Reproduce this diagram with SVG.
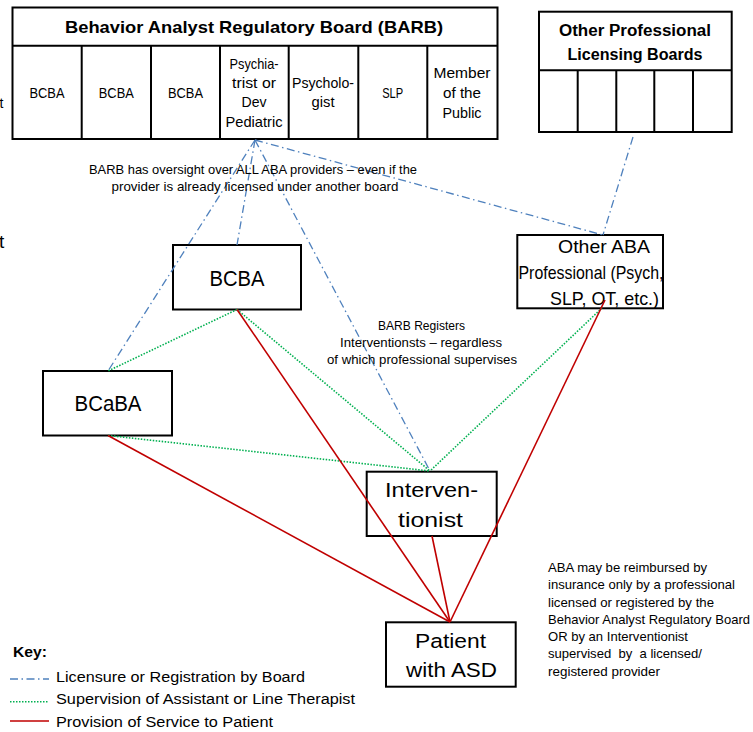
<svg xmlns="http://www.w3.org/2000/svg" width="753" height="732" viewBox="0 0 753 732">
<style>
.t{font-family:"Liberation Sans",Arial,sans-serif;fill:#000}
.b{font-weight:bold}
.box{fill:#fff;stroke:#000;stroke-width:2}
.grid{fill:none;stroke:#000;stroke-width:2}
.lic{fill:none;stroke:#4F81BD;stroke-width:1.3;stroke-dasharray:8 3.5 1.5 3.5}
.sup{fill:none;stroke:#00B050;stroke-width:1.6;stroke-dasharray:1.5 1.5}
.svc{fill:none;stroke:#C00000;stroke-width:1.6}
</style>
<rect width="753" height="732" fill="#fff"/>

<text class="t" x="-0.5" y="108" font-size="14">t</text>
<text class="t" x="-1" y="248" font-size="19">t</text>

<g id="barb">
  <rect class="grid" x="12.5" y="7.5" width="485" height="131.5"/>
  <line class="grid" x1="12.5" y1="45.7" x2="497.5" y2="45.7"/>
  <path class="grid" d="M81.7 45.7V139M151 45.7V139M220 45.7V139M288.7 45.7V139M358.3 45.7V139M427.3 45.7V139"/>
  <text class="t b" x="254" y="33" font-size="17" text-anchor="middle" textLength="378" lengthAdjust="spacingAndGlyphs">Behavior Analyst Regulatory Board (BARB)</text>
  <g font-size="14.5" text-anchor="middle">
    <text class="t" x="47" y="98" textLength="35" lengthAdjust="spacingAndGlyphs">BCBA</text>
    <text class="t" x="116.3" y="98" textLength="35" lengthAdjust="spacingAndGlyphs">BCBA</text>
    <text class="t" x="185.5" y="98" textLength="35" lengthAdjust="spacingAndGlyphs">BCBA</text>
    <text class="t" x="254" y="69" textLength="49" lengthAdjust="spacingAndGlyphs">Psychia-</text>
    <text class="t" x="254" y="88" textLength="44" lengthAdjust="spacingAndGlyphs">trist or</text>
    <text class="t" x="254" y="107" textLength="25" lengthAdjust="spacingAndGlyphs">Dev</text>
    <text class="t" x="254" y="127" textLength="57" lengthAdjust="spacingAndGlyphs">Pediatric</text>
    <text class="t" x="323" y="88" textLength="62" lengthAdjust="spacingAndGlyphs">Psycholo-</text>
    <text class="t" x="323" y="107" textLength="23" lengthAdjust="spacingAndGlyphs">gist</text>
    <text class="t" x="392.7" y="98" textLength="21" lengthAdjust="spacingAndGlyphs">SLP</text>
    <text class="t" x="462" y="78" textLength="57" lengthAdjust="spacingAndGlyphs">Member</text>
    <text class="t" x="462" y="98" textLength="38" lengthAdjust="spacingAndGlyphs">of the</text>
    <text class="t" x="462" y="118" textLength="39" lengthAdjust="spacingAndGlyphs">Public</text>
  </g>
</g>

<g id="other-boards">
  <rect class="grid" x="539" y="11.7" width="192.7" height="120.3"/>
  <line class="grid" x1="539" y1="70.3" x2="731.7" y2="70.3"/>
  <path class="grid" d="M577.7 70.3V132M616.3 70.3V132M654.3 70.3V132M693 70.3V132"/>
  <text class="t b" x="635" y="36" font-size="16" text-anchor="middle" textLength="152" lengthAdjust="spacingAndGlyphs">Other Professional</text>
  <text class="t b" x="635" y="60" font-size="16" text-anchor="middle" textLength="135" lengthAdjust="spacingAndGlyphs">Licensing Boards</text>
</g>

<g id="bcba">
  <rect class="box" x="173" y="245" width="128" height="64.5"/>
  <text class="t" x="237" y="286" font-size="22" text-anchor="middle" textLength="55" lengthAdjust="spacingAndGlyphs">BCBA</text>
</g>

<g id="other-aba">
  <rect class="box" x="517.3" y="235" width="145.7" height="73.3"/>
  <text class="t" x="604" y="253" font-size="19" text-anchor="middle" textLength="92" lengthAdjust="spacingAndGlyphs">Other ABA</text>
  <text class="t" x="591" y="279" font-size="19" text-anchor="middle" textLength="145" lengthAdjust="spacingAndGlyphs">Professional (Psych,</text>
  <text class="t" x="604.5" y="305" font-size="19" text-anchor="middle" textLength="109" lengthAdjust="spacingAndGlyphs">SLP, OT, etc.)</text>
</g>

<g id="bcaba">
  <rect class="box" x="43" y="371" width="129" height="64.5"/>
  <text class="t" x="108" y="411" font-size="22" text-anchor="middle" textLength="67" lengthAdjust="spacingAndGlyphs">BCaBA</text>
</g>

<g id="interventionist">
  <rect class="box" x="366.7" y="471.7" width="130" height="64.3"/>
  <text class="t" x="431.5" y="497" font-size="20.5" text-anchor="middle" textLength="93" lengthAdjust="spacingAndGlyphs">Interven-</text>
  <text class="t" x="430.5" y="527" font-size="20.5" text-anchor="middle" textLength="65" lengthAdjust="spacingAndGlyphs">tionist</text>
</g>

<g id="patient">
  <rect class="box" x="386" y="622.3" width="129.7" height="64.4"/>
  <text class="t" x="450.5" y="648" font-size="20.5" text-anchor="middle" textLength="71" lengthAdjust="spacingAndGlyphs">Patient</text>
  <text class="t" x="451.5" y="677" font-size="20.5" text-anchor="middle" textLength="91" lengthAdjust="spacingAndGlyphs">with ASD</text>
</g>

<g id="connectors">
  <line class="lic" x1="255" y1="140" x2="237" y2="245"/>
  <line class="lic" x1="255" y1="140" x2="108" y2="371"/>
  <line class="lic" x1="255" y1="140" x2="430" y2="471"/>
  <line class="lic" x1="255" y1="140" x2="603" y2="235"/>
  <line class="lic" x1="633" y1="137" x2="603" y2="235"/>
  <line class="sup" x1="237" y1="309.5" x2="108" y2="371"/>
  <line class="sup" x1="237" y1="309.5" x2="430" y2="471"/>
  <line class="sup" x1="108" y1="435.5" x2="430" y2="471"/>
  <line class="sup" x1="602" y1="308" x2="430" y2="471"/>
  <line class="svc" x1="237" y1="309.5" x2="450" y2="622"/>
  <line class="svc" x1="108" y1="435.5" x2="450" y2="622"/>
  <line class="svc" x1="432" y1="536" x2="450" y2="622"/>
  <line class="svc" x1="605" y1="300" x2="450" y2="622"/>
</g>

<g id="notes" font-size="12.8">
  <text class="t" x="253" y="174" text-anchor="middle" textLength="328" lengthAdjust="spacingAndGlyphs">BARB has oversight over ALL ABA providers – even if the</text>
  <text class="t" x="255" y="191" text-anchor="middle" textLength="287" lengthAdjust="spacingAndGlyphs">provider is already licensed under another board</text>
  <text class="t" x="421.5" y="330" text-anchor="middle" textLength="87" lengthAdjust="spacingAndGlyphs">BARB Registers</text>
  <text class="t" x="421" y="347" text-anchor="middle" textLength="162" lengthAdjust="spacingAndGlyphs">Interventionsts – regardless</text>
  <text class="t" x="422" y="364" text-anchor="middle" textLength="190" lengthAdjust="spacingAndGlyphs">of which professional supervises</text>
  <text class="t" x="548" y="572" textLength="159" lengthAdjust="spacingAndGlyphs">ABA may be reimbursed by</text>
  <text class="t" x="548" y="589" textLength="187" lengthAdjust="spacingAndGlyphs">insurance only by a professional</text>
  <text class="t" x="548" y="607" textLength="166" lengthAdjust="spacingAndGlyphs">licensed or registered by the</text>
  <text class="t" x="548" y="624" textLength="202" lengthAdjust="spacingAndGlyphs">Behavior Analyst Regulatory Board</text>
  <text class="t" x="548" y="641" textLength="140" lengthAdjust="spacingAndGlyphs">OR by an Interventionist</text>
  <text class="t" x="548" y="658" textLength="154" lengthAdjust="spacingAndGlyphs" xml:space="preserve">supervised  by  a licensed/</text>
  <text class="t" x="548" y="676" textLength="112" lengthAdjust="spacingAndGlyphs">registered provider</text>
</g>

<g id="key">
  <text class="t b" x="13" y="657" font-size="14" textLength="34" lengthAdjust="spacingAndGlyphs">Key:</text>
  <line class="lic" x1="10" y1="679" x2="49" y2="679"/>
  <line class="sup" x1="10" y1="701.7" x2="49" y2="701.7"/>
  <line class="svc" x1="10" y1="721" x2="49" y2="721"/>
  <text class="t" x="56" y="682" font-size="15.5" textLength="249" lengthAdjust="spacingAndGlyphs">Licensure or Registration by Board</text>
  <text class="t" x="56" y="704" font-size="15.5" textLength="299" lengthAdjust="spacingAndGlyphs">Supervision of Assistant or Line Therapist</text>
  <text class="t" x="56" y="727" font-size="15.5" textLength="217" lengthAdjust="spacingAndGlyphs">Provision of Service to Patient</text>
</g>
</svg>
